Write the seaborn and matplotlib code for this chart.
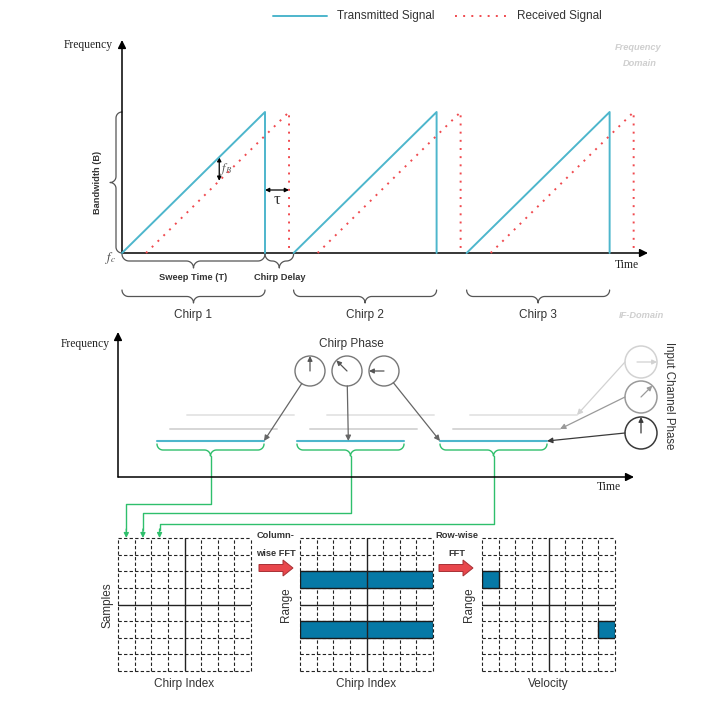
import numpy as np
import pandas as pd
import seaborn as sns
import matplotlib.pyplot as plt
from matplotlib.colors import ListedColormap
from matplotlib.patches import Circle, Rectangle, FancyArrow

# chirp timing, in units of sweep time T and bandwidth B
sweep_time = 1.0
bandwidth = 1.0
chirp_starts = [0.0, 1.2, 2.41]
tau = 0.168
chirp_names = ["Chirp 1", "Chirp 2", "Chirp 3"]

# IF domain segments (pixels from the IF axes origin)
if_starts = [39, 179, 322]
if_width = 107
if_level = 36
echo_shift = [13, 30]
echo_level = [48, 62]
echo_colors = ["#d6d6d6", "#e6e6e6"]

# phasors (degrees)
chirp_phase = [90, 135, 180]
channel_phase = [0, 45, 90]
channel_colors = ["#d2d2d2", "#9a9a9a", "#3a3a3a"]

# radar cube grids
n_rows, n_cols = 8, 8
range_bins = [2, 5]
velocity_bins = [0, 7]
feed_cols = [0, 1, 2]
feed_y = [504, 513, 524]

TX = "#4db6cc"
RX = "#f04a4f"
GREEN = "#2fbf6c"
BLUE_CELL = "#0679a6"
TXT = "#333333"

sns.set_theme(style="white")
plt.rcParams["font.family"] = ["Liberation Sans", "DejaVu Sans"]
plt.rcParams["mathtext.fontset"] = "stix"
SERIF = ["Liberation Serif", "DejaVu Serif"]

W, H = 724, 723


def rect(x0, y0, x1, y1):
    return [x0 / W, 1 - y1 / H, (x1 - x0) / W, (y1 - y0) / H]


fig = plt.figure(figsize=(W / 100, H / 100), dpi=100)
ov = fig.add_axes([0, 0, 1, 1], zorder=0)
ov.set_xlim(0, W)
ov.set_ylim(H, 0)
ov.axis("off")


def arrow(p0, p1, color="black", lw=1.0, ms=10, style="-|>"):
    ov.annotate("", xy=p1, xytext=p0,
                arrowprops=dict(arrowstyle=style, color=color, lw=lw,
                                mutation_scale=ms, shrinkA=0, shrinkB=0))


def brace(a0, a1, base, depth, side="down", color="#555555", lw=0.9):
    r = min(depth / 2, (a1 - a0) / 4)
    am = (a0 + a1) / 2
    th1 = np.linspace(np.pi, np.pi / 2, 12)
    th2 = np.linspace(-np.pi / 2, 0, 12)
    u = np.concatenate([a0 + r + r * np.cos(th1), am - r + r * np.cos(th2)])
    v = np.concatenate([r * np.sin(th1), 2 * r + r * np.sin(th2)])
    u = np.concatenate([u, (a0 + a1 - u)[::-1]])
    v = np.concatenate([v, v[::-1]])
    if side == "down":
        ov.plot(u, base + v, color=color, lw=lw)
        return am, base + 2 * r
    ov.plot(base - v, u, color=color, lw=lw)
    return base - 2 * r, am


# ---------------- frequency domain ----------------
x0_top, y0_top = 122, 253
px_T, px_B = 143, 141


def t2px(t):
    return x0_top + px_T * t


rows = []
for i, s in enumerate(chirp_starts):
    for sig, off in [("Transmitted Signal", 0.0), ("Received Signal", tau)]:
        for t, f in [(s + off, 0), (s + off + sweep_time, bandwidth), (s + off + sweep_time, 0)]:
            rows.append({"t": t, "f": f, "signal": sig, "chirp": i})
df = pd.DataFrame(rows)

ax1 = fig.add_axes(rect(x0_top, 40, 648, y0_top), zorder=1)
sns.lineplot(data=df, x="t", y="f", hue="signal", style="signal", units="chirp",
             estimator=None, sort=False, ax=ax1, legend=False, lw=1.4,
             palette={"Transmitted Signal": TX, "Received Signal": RX},
             dashes={"Transmitted Signal": "", "Received Signal": (1, 3.2)})
ax1.set_xlim(0, (648 - x0_top) / px_T)
ax1.set_ylim(0, (y0_top - 40) / px_B)
ax1.axis("off")
ax1.patch.set_alpha(0)
for ln in ax1.lines:
    ln.set_clip_on(False)

arrow((x0_top, y0_top), (648, y0_top), lw=1.1, ms=12)
arrow((x0_top, y0_top), (x0_top, 40), lw=1.1, ms=12)
ov.text(113, 45, "Frequency", ha="right", va="center", family=SERIF, fontsize=8.4, color="#222")
ov.text(627, 265, "Time", ha="center", va="center", family=SERIF, fontsize=8.4, color="#222")
ov.text(111, 258, r"$f_c$", ha="center", va="center", fontsize=9, color="#444")

# legend
ov.plot([273, 327], [16, 16], color=TX, lw=1.4)
ov.text(337, 16, "Transmitted Signal", ha="left", va="center", fontsize=8.5, color=TXT)
ov.plot([455, 508], [16, 16], color=RX, lw=1.4, dashes=(1, 3.2))
ov.text(517, 16, "Received Signal", ha="left", va="center", fontsize=8.5, color=TXT)

ov.text(638, 47, "Frequency", ha="center", va="center", fontsize=6.7, style="italic",
        weight="bold", color="#cfcfcf")
ov.text(640, 63, "Domain", ha="center", va="center", fontsize=6.7, style="italic",
        weight="bold", color="#cfcfcf")

# beat frequency and delay markers
fb_x = t2px(chirp_starts[0] + 0.68)
fb_top = y0_top - px_B * 0.68 * bandwidth / sweep_time
fb_bot = y0_top - px_B * (0.68 - tau) * bandwidth / sweep_time
arrow((fb_x, fb_bot), (fb_x, fb_top), lw=0.9, ms=6, style="<|-|>")
ov.text(fb_x + 7, (fb_top + fb_bot) / 2, r"$f_B$", ha="center", va="center", fontsize=9, color="#555")
tx_end = t2px(chirp_starts[0] + sweep_time)
rx_end = t2px(chirp_starts[0] + sweep_time + tau)
arrow((tx_end, 190), (rx_end, 190), lw=0.9, ms=6, style="<|-|>")
ov.text((tx_end + rx_end) / 2, 200, "τ", ha="center", va="center", family=SERIF, fontsize=12, color="#333")

bx, by = brace(y0_top - px_B * bandwidth, y0_top, x0_top, 12, side="left")
ov.text(97, by, "Bandwidth (B)", rotation=90, ha="center", va="center", fontsize=6.7,
        weight="bold", color=TXT)

sx, sy = brace(t2px(chirp_starts[0]), tx_end, 254, 14)
ov.text(sx, 277, "Sweep Time (T)", ha="center", va="center", fontsize=6.7, weight="bold", color=TXT)
dx, dy = brace(tx_end, t2px(chirp_starts[1]), 254, 14)
ov.text(dx, 277, "Chirp Delay", ha="center", va="center", fontsize=6.7, weight="bold", color=TXT)

for s, name in zip(chirp_starts, chirp_names):
    cx, cy = brace(t2px(s), t2px(s + sweep_time), 290, 13)
    ov.text(cx, 315, name, ha="center", va="center", fontsize=8.5, color=TXT)
ov.text(641, 316, "IF-Domain", ha="center", va="center", fontsize=6.7, style="italic",
        weight="bold", color="#cfcfcf")

# ---------------- IF domain ----------------
x0_if, y0_if = 118, 477
arrow((x0_if, y0_if), (634, y0_if), lw=1.1, ms=12)
arrow((x0_if, y0_if), (x0_if, 332), lw=1.1, ms=12)
ov.text(110, 344, "Frequency", ha="right", va="center", family=SERIF, fontsize=8.4, color="#222")
ov.text(609, 487, "Time", ha="center", va="center", family=SERIF, fontsize=8.4, color="#222")

for s in if_starts:
    for sh, lv, c in zip(echo_shift, echo_level, echo_colors):
        ov.plot([x0_if + s + sh, x0_if + s + sh + if_width], [y0_if - lv] * 2, color=c, lw=1.4)
    ov.plot([x0_if + s, x0_if + s + if_width], [y0_if - if_level] * 2, color=TX, lw=1.5)

grid_left = [118, 300, 482]
grid_top, grid_size = 538, 133
cell = grid_size / n_cols

for i, s in enumerate(if_starts):
    gx, gy = brace(x0_if + s, x0_if + s + if_width, y0_if - if_level + 3, 12, color=GREEN, lw=1.0)
    tx = grid_left[0] + cell * (feed_cols[i] + 0.5)
    ov.plot([gx, gx, tx, tx], [gy, feed_y[i], feed_y[i], grid_top - 8], color=GREEN, lw=1.0)
    arrow((tx, grid_top - 9), (tx, grid_top), color=GREEN, lw=1.0, ms=7)

# chirp phasors
ov.text(351, 344, "Chirp Phase", ha="center", va="center", fontsize=8.5, color=TXT)
r_c = 15
targets = [(x0_if + if_starts[0] + if_width, y0_if - if_level),
           (x0_if + if_starts[1] + if_width * 0.48, y0_if - if_level),
           (x0_if + if_starts[2], y0_if - if_level)]
for cx, ph, tgt in zip([310, 347, 384], chirp_phase, targets):
    ov.add_patch(Circle((cx, 371), r_c, fill=False, ec="#777777", lw=1.0))
    a = np.deg2rad(ph)
    arrow((cx, 371), (cx + r_c * np.cos(a), 371 - r_c * np.sin(a)), color="#555555", lw=0.9, ms=7)
    d = np.array(tgt) - np.array([cx, 371])
    d = d / np.hypot(*d)
    arrow((cx + r_c * d[0], 371 + r_c * d[1]), tgt, color="#666666", lw=0.9, ms=8)

# input channel phasors
ov.text(669, 396, "Input Channel Phase", rotation=-90, ha="center", va="center", fontsize=8.3, color=TXT)
r_ch = 16
ch_targets = [(x0_if + if_starts[2] + echo_shift[1] + if_width, y0_if - echo_level[1]),
              (x0_if + if_starts[2] + echo_shift[0] + if_width, y0_if - echo_level[0]),
              (x0_if + if_starts[2] + if_width, y0_if - if_level)]
for cy, ph, col, tgt in zip([362, 397, 433], channel_phase, channel_colors, ch_targets):
    ov.add_patch(Circle((641, cy), r_ch, fill=False, ec=col, lw=1.1))
    a = np.deg2rad(ph)
    arrow((641 - 4 * np.cos(a) * (ph == 0), cy), (641 + r_ch * np.cos(a), cy - r_ch * np.sin(a)),
          color=col, lw=0.9, ms=7)
    arrow((625, cy), tgt, color=col, lw=0.9, ms=8)

# ---------------- radar cube grids ----------------
grids = []
g0 = np.zeros((n_rows, n_cols))
g1 = np.zeros((n_rows, n_cols))
g1[range_bins, :] = 1
g2 = np.zeros((n_rows, n_cols))
g2[range_bins, velocity_bins] = 1
grids = [g0, g1, g2]

for gl, g in zip(grid_left, grids):
    ax = fig.add_axes(rect(gl, grid_top, gl + grid_size, grid_top + grid_size), zorder=1)
    sns.heatmap(g, mask=g == 0, cmap=ListedColormap([BLUE_CELL]), vmin=0, vmax=1,
                cbar=False, xticklabels=False, yticklabels=False, ax=ax)
    for sp in ax.spines.values():
        sp.set_visible(False)
    for k in range(n_cols + 1):
        if k == n_cols // 2:
            ax.axvline(k, color="#222222", lw=1.0, zorder=3)
            ax.axhline(k, color="#222222", lw=1.0, zorder=3)
        else:
            ax.axvline(k, color="#222222", lw=0.8, dashes=(3, 2), zorder=0.5, clip_on=False)
            ax.axhline(k, color="#222222", lw=0.8, dashes=(3, 2), zorder=0.5, clip_on=False)
    rr, cc = np.nonzero(g)
    for r in sorted(set(rr)):
        cols = cc[rr == r]
        ax.add_patch(Rectangle((cols.min(), r), cols.max() - cols.min() + 1, 1, fill=False,
                               ec="#1a1a1a", lw=1.0, zorder=2.5))

ov.text(108, 605, "Samples", rotation=90, ha="center", va="center", fontsize=8.5, color=TXT)
ov.text(286, 605, "Range", rotation=90, ha="center", va="center", fontsize=8.5, color=TXT)
ov.text(469, 605, "Range", rotation=90, ha="center", va="center", fontsize=8.5, color=TXT)
ov.text(184, 684, "Chirp Index", ha="center", va="center", fontsize=8.5, color=TXT)
ov.text(366, 684, "Chirp Index", ha="center", va="center", fontsize=8.5, color=TXT)
ov.text(548, 684, "Velocity", ha="center", va="center", fontsize=8.5, color=TXT)

for ax0, l1, l2, ly in [(259, "Column-", "wise FFT", 276), (439, "Row-wise", "FFT", 457)]:
    ov.add_patch(FancyArrow(ax0, 568, 34, 0, width=7, head_width=16, head_length=10,
                            length_includes_head=True, fc="#e8474c", ec="#a83035", lw=0.7))
    ov.text(ly, 536, l1, ha="center", va="center", fontsize=6.7, weight="bold", color=TXT)
    ov.text(ly, 553, l2, ha="center", va="center", fontsize=6.7, weight="bold", color=TXT)

fig.savefig("out.png", dpi=100)
